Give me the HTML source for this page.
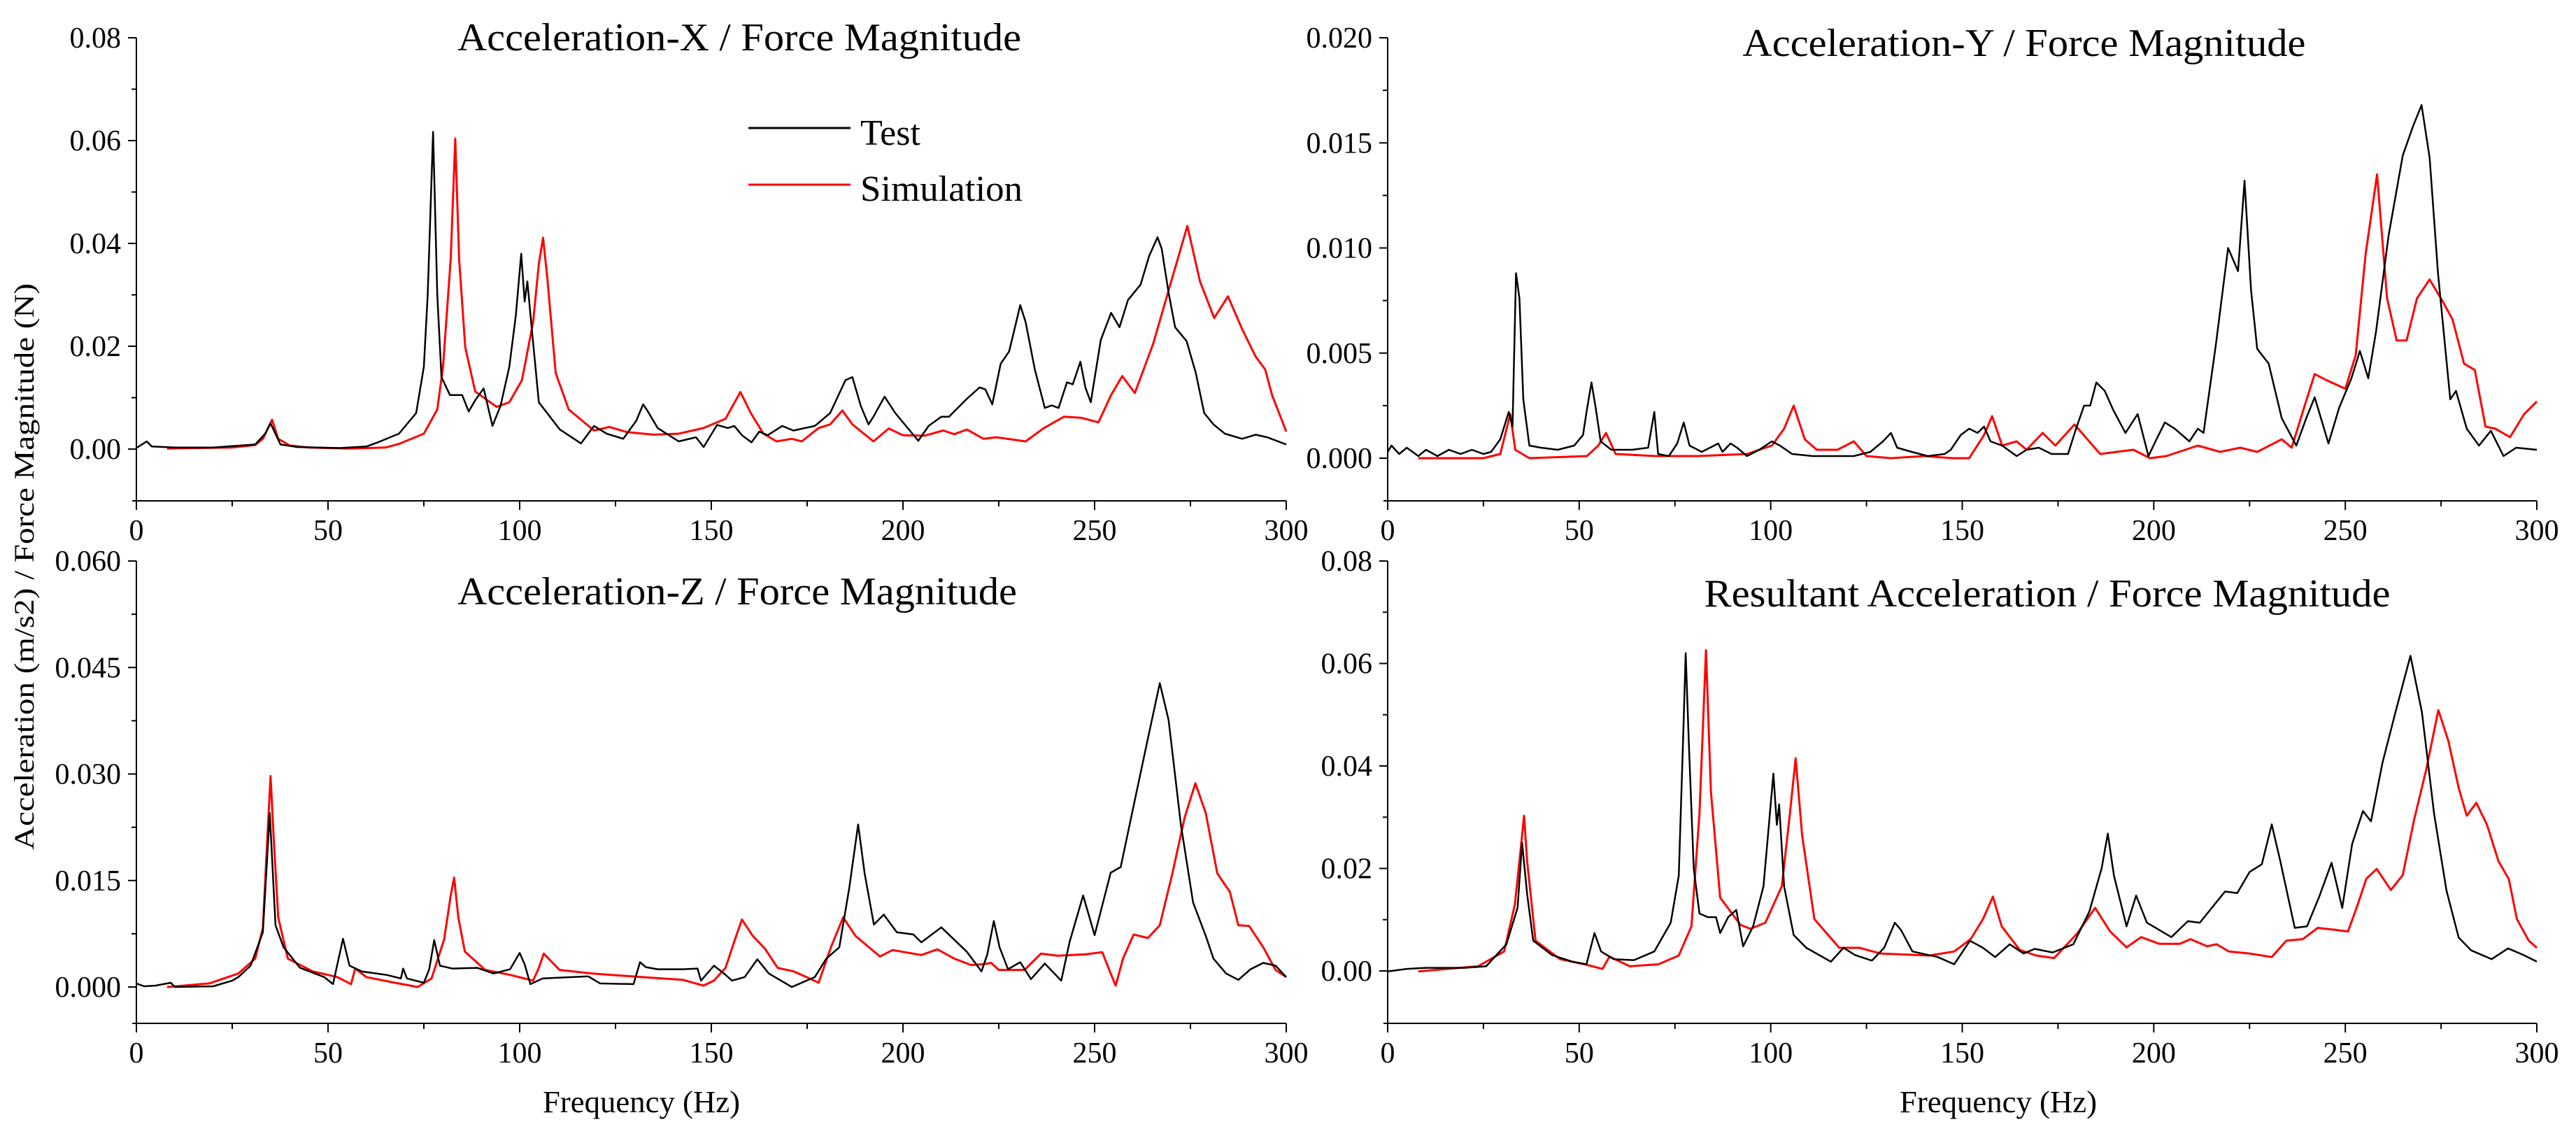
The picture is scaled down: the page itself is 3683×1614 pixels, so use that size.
<!DOCTYPE html>
<html>
<head>
<meta charset="utf-8">
<style>
html,body{margin:0;padding:0;background:#fff;}
svg{display:block;}
text{font-family:"Liberation Serif","Times New Roman",serif;fill:#000;}
</style>
</head>
<body>
<svg id="fig" width="3683" height="1614" viewBox="0 0 3683 1614" xmlns="http://www.w3.org/2000/svg">
<rect x="0" y="0" width="3683" height="1614" fill="#fff"/>
<text transform="translate(48,810) rotate(-90)" text-anchor="middle" font-size="40" textLength="810" lengthAdjust="spacingAndGlyphs">Acceleration (m/s2) / Force Magnitude (N)</text>
</svg>
<script>
// ---------- Data (frequency Hz, magnitude) ----------
const xTickLabels = ["0","50","100","150","200","250","300"];

const tlTestF = [0,2.7,4,10,20,31,33.6,35,37.6,42,53,60,63,68.5,73,75,76,77.4,78.5,79.6,81.8,85,86.7,88.4,90.6,92.9,95,97.3,99,100.4,101.3,102,103,105,110.5,116,119.4,122.7,127,130.4,132.2,133.3,136,141.5,146,148,151.5,154.3,156,158,160.5,162.5,164.7,168.5,171.4,177,181,185,186.8,189,191,192.3,195.2,198,202,204,206.7,210,212,216.7,220,221.5,223.3,225.5,227.7,230.6,232,234.4,237,238.8,240.6,242.8,244.3,246.3,247.6,249,251.6,254.3,256.5,258.7,262,264.2,266.4,267.5,269.3,271,274,276.4,278.6,281,284,288.5,292,295,300];
const tlTestV = [0.0002,0.0015,0.0005,0.0003,0.0003,0.0009,0.003,0.005,0.0009,0.0004,0.0002,0.0005,0.0013,0.003,0.007,0.016,0.030,0.0617,0.030,0.014,0.0105,0.0105,0.0073,0.0095,0.0118,0.0045,0.0084,0.016,0.026,0.038,0.0287,0.0326,0.0247,0.0091,0.0038,0.0011,0.0045,0.003,0.002,0.0055,0.0087,0.0075,0.0041,0.0015,0.0023,0.0004,0.0047,0.0041,0.0045,0.0027,0.0013,0.0034,0.0027,0.0045,0.0036,0.0045,0.007,0.0134,0.014,0.0084,0.0048,0.0063,0.0102,0.007,0.0034,0.0016,0.0045,0.0063,0.0063,0.0098,0.012,0.0116,0.0087,0.0166,0.019,0.028,0.0247,0.0155,0.008,0.0085,0.008,0.013,0.0126,0.017,0.012,0.0091,0.0212,0.0265,0.0237,0.029,0.032,0.0375,0.0412,0.039,0.0304,0.0237,0.021,0.0148,0.007,0.0048,0.003,0.002,0.0028,0.0023,0.0009];
const tlSimF = [8,25,31,33,35.4,37,40,45,55,65,68.5,75,78.5,80,82,83.2,84.2,85.8,88.4,94,97.3,100.6,103.5,105,106.1,107.2,109.4,112.8,119.4,123.4,128,135,141.5,148,153.7,157.6,160.3,163.6,167,171,173.6,178,181,184.2,186.8,192.3,196.3,200,205.6,210.5,213.4,216.7,221,224.4,232,236.6,242,246.5,251,254.3,257.2,260.5,265.3,269.7,274.2,277.5,281.2,284.8,288.5,292,294.5,296.3,300];
const tlSimV = [0.0001,0.0003,0.0008,0.002,0.0057,0.002,0.0007,0.0003,0.0001,0.0003,0.001,0.003,0.0077,0.016,0.037,0.0604,0.037,0.0198,0.0112,0.0082,0.0091,0.0134,0.0247,0.036,0.0411,0.0333,0.0148,0.0077,0.0036,0.0043,0.0033,0.0028,0.003,0.0041,0.0059,0.0111,0.007,0.003,0.0015,0.002,0.0015,0.0041,0.0048,0.0075,0.0048,0.0015,0.004,0.0027,0.0026,0.0036,0.0029,0.0038,0.002,0.0023,0.0015,0.004,0.0063,0.0061,0.0052,0.0105,0.0142,0.0109,0.0205,0.0319,0.0434,0.0326,0.0255,0.0297,0.0233,0.018,0.0155,0.0105,0.0034];

const trTestF = [0,1,3,5,8,10,13,16,19,22,25,27,29.4,31.6,32.6,33.5,34.4,35.4,37,40,44.4,48.7,51,52,53.2,54.3,55.6,58.4,63.8,68,69.6,70.6,73.4,75.6,77.3,78.8,82,86.3,87.4,89.5,91.2,93.8,97,100.3,102.4,105.6,111,115.3,121.7,126,129.3,131.4,133,136.8,141,145.4,147,149.6,151.8,154,155.7,157.4,160.4,164.2,166.8,170,173.3,177.6,179.7,181.8,183.4,185,187.2,189.4,192.6,195.8,198.6,200.7,202.9,205.5,209.3,211.5,213,216.2,219.4,222,223.7,225.4,227,230,233.4,237.2,239.8,242,245.6,248.4,251.6,253.8,256,258,261.3,265,267.7,269.9,272,274.2,277.4,278.9,281.7,284.9,288,291.3,294.6,300];
const trTestV = [0.0003,0.0006,0.0002,0.0005,0.0001,0.0004,0.0001,0.0004,0.0002,0.0004,0.0002,0.0003,0.0009,0.0022,0.0015,0.0088,0.0076,0.0028,0.0006,0.0005,0.0004,0.0006,0.0011,0.0023,0.0036,0.0024,0.0008,0.0004,0.0004,0.0005,0.0022,0.0002,0.0001,0.0007,0.0017,0.0006,0.0003,0.0007,0.0003,0.0007,0.0005,0.0001,0.0004,0.0008,0.0006,0.0002,0.0001,0.0001,0.0001,0.0003,0.0008,0.0012,0.0005,0.0003,0.0001,0.0002,0.0004,0.0011,0.0014,0.0012,0.0015,0.0008,0.0006,0.0001,0.0004,0.0005,0.0002,0.0002,0.0014,0.0025,0.0025,0.0036,0.0032,0.0023,0.0012,0.0021,0.0001,0.0009,0.0017,0.0014,0.0008,0.0014,0.0012,0.0054,0.01,0.0089,0.0132,0.008,0.0052,0.0045,0.0019,0.0006,0.0019,0.0029,0.0007,0.0024,0.0038,0.0051,0.0038,0.006,0.0106,0.0144,0.0158,0.0168,0.0143,0.0088,0.0028,0.0032,0.0014,0.0006,0.0013,0.0001,0.0005,0.0004];
const trSimF = [8,25,29.4,32,33.3,37,52,55,57,59.5,70,81,93.8,100.3,103.5,106,108.9,112,117.4,121.7,125,131.4,140,147.5,151.8,155.7,157.8,160.4,164.2,166.8,171,174.3,179.3,186,194.7,199,203.3,211.5,217.3,222.6,227,233.4,236,239.4,242,245.2,250,252.7,255.3,258.3,260.9,263.4,266,268.7,272,275.3,278,281,283.8,286.6,289.2,293,296.7,300];
const trSimV = [0,0,0.0002,0.0021,0.0004,0,0.0001,0.0006,0.0012,0.0002,0.0001,0.0001,0.0002,0.0006,0.0014,0.0025,0.0009,0.0004,0.0004,0.0008,0.0001,0,0.0001,0,0,0.0011,0.002,0.0006,0.0008,0.0004,0.0012,0.0006,0.0016,0.0002,0.0004,0,0.0001,0.0006,0.0003,0.0005,0.0003,0.0009,0.0005,0.0025,0.004,0.0037,0.0033,0.0049,0.0097,0.0135,0.0076,0.0056,0.0056,0.0076,0.0085,0.0075,0.0066,0.0045,0.0042,0.0015,0.0014,0.001,0.0021,0.0027];

const blTestF = [0,2,5,9,10,20,25,26.6,29.8,33,34.8,36.3,38.4,42.7,49,51.3,53.9,55.6,58.8,65.3,69,69.6,70.6,75,76.4,77.7,79.2,82.4,88.9,93.2,97.5,100,101.3,102.8,106,117.9,121,129.7,131.4,132.9,136,142.6,146.4,147.3,150.7,153.3,155.4,158.7,162,165,171,177,180,183.4,186,188.3,190,192.4,195,198.4,202.7,204.8,210,216.6,220.5,222,223.7,225.2,227.4,230.6,233.4,237,241.3,243.5,247,250,254.2,256.8,260.6,263.9,267,269.3,272.5,275.7,279,281,284.3,287.5,290.7,294,297.2,300];
const blTestV = [0.0005,0.0001,0.0002,0.0006,0,0.0001,0.0009,0.0014,0.003,0.0077,0.0245,0.0087,0.0056,0.0027,0.0014,0.0004,0.0068,0.003,0.0022,0.0017,0.0012,0.0026,0.0012,0.0006,0.0025,0.0066,0.003,0.0026,0.0027,0.0019,0.0025,0.0048,0.0032,0.0004,0.0012,0.0015,0.0005,0.0004,0.0035,0.0028,0.0025,0.0025,0.0026,0.0009,0.003,0.0019,0.0009,0.0014,0.0039,0.0019,0,0.0014,0.004,0.0056,0.014,0.0229,0.016,0.0088,0.0102,0.0077,0.0074,0.0063,0.0084,0.005,0.0022,0.0046,0.0093,0.0056,0.0025,0.0035,0.0011,0.0033,0.0009,0.0064,0.0129,0.0073,0.0161,0.0169,0.0266,0.035,0.0428,0.0376,0.0229,0.0119,0.0072,0.004,0.0019,0.001,0.0025,0.0034,0.003,0.0014];
const blSimF = [8,19,26.6,31,33,34.1,35,35.9,37,39.5,46,52.4,56,57.1,60,67.4,73.4,77,80.3,82,82.9,84,85.7,91,97.5,103.5,105,106.3,110.4,119,131.8,142.6,148,150.7,153.7,156.5,158,160.8,164,167.3,171.5,174.8,178,181.2,184.4,187.6,194,197.3,204.8,209,213.4,217.7,221,223,225,231.7,236,240.3,247.7,252,254.2,255.5,257.4,260.2,263.9,267,270.3,273.5,276.3,279,282,285.3,287.5,290.3,294,297.2,300];
const blSimV = [0,0.0005,0.0019,0.004,0.0083,0.0203,0.0297,0.0203,0.0098,0.004,0.0022,0.0014,0.0004,0.0026,0.0014,0.0006,0,0.0012,0.0067,0.0129,0.0154,0.0098,0.005,0.0024,0.0017,0.0009,0.0027,0.0047,0.0024,0.0019,0.0014,0.001,0.0002,0.0009,0.0027,0.0072,0.0095,0.0072,0.0054,0.0027,0.0022,0.0014,0.0006,0.0056,0.0098,0.0072,0.0043,0.0052,0.0045,0.0053,0.004,0.0031,0.0032,0.0034,0.0024,0.0024,0.0047,0.0044,0.0046,0.0049,0.0019,0.0002,0.004,0.0074,0.0069,0.0087,0.016,0.0239,0.0287,0.0245,0.016,0.0134,0.0087,0.0086,0.0056,0.0024,0.0014];

const brTestF = [0,5,10,20,25.7,31,33.9,35.1,36.4,38,42.9,48.2,51.9,54,55.7,59,64.3,69.6,73.9,76,77.1,77.8,78.6,79.9,81.4,83.6,85.7,86.8,88.9,91,92.8,95.4,98.1,100.7,101.6,102.2,103.5,106,109.3,115.7,119,122,126.4,129.6,132.4,134,137,143.6,147.9,152,155.4,158.6,162.4,166,168.9,173.6,179,183.2,186.4,188,189.6,192.9,195.4,198.2,204.6,208.9,212,218.6,221.8,225,228.2,230.8,233,236.8,240,243.2,246.4,249.2,251.8,254.6,256.7,259.7,263.1,267,270,273.2,276.4,279.6,282.9,288.2,292.5,296.8,300];
const brTestV = [-0.0001,0.0004,0.0006,0.0006,0.0009,0.0052,0.0123,0.025,0.015,0.0059,0.0031,0.0018,0.0013,0.0074,0.0038,0.0023,0.0021,0.0038,0.0094,0.0186,0.0448,0.062,0.0448,0.02,0.0112,0.0105,0.0105,0.0074,0.0105,0.0119,0.0048,0.0087,0.0165,0.0385,0.0285,0.0325,0.0165,0.007,0.0045,0.0018,0.0045,0.0031,0.002,0.0045,0.0094,0.008,0.0038,0.0027,0.0013,0.0059,0.0045,0.0027,0.0052,0.0034,0.0043,0.0036,0.0052,0.0116,0.0201,0.0268,0.0186,0.0087,0.0147,0.0094,0.0066,0.0097,0.0094,0.0155,0.0152,0.0193,0.0208,0.0286,0.0215,0.0084,0.0087,0.0145,0.0211,0.0123,0.0248,0.0312,0.0292,0.0406,0.0505,0.0615,0.0505,0.0306,0.0157,0.0065,0.004,0.0023,0.0044,0.003,0.0018];
const brSimF = [8,23.6,30.4,33.2,34.7,35.6,36.4,38.6,45,51.4,56.1,57.9,63.2,70.7,76,79.3,81.4,83.1,84.4,86.8,92.1,94.7,98.6,102.9,105,106.5,108.2,111.4,117.9,123.2,128.6,141.4,147.9,152.2,155.4,158,160.3,165,169.3,174,180,184.7,188.6,192.9,196.7,201.4,206.8,209.6,213.9,216.4,219.6,225,230.8,234.6,238.9,242.8,247.5,250.7,252.9,255.5,258.2,261.9,265,267.9,271.1,274.3,276.9,279.6,281.7,284.2,287,290,292.7,294.8,297.9,300];
const brSimV = [-0.0001,0.0009,0.0038,0.0129,0.0235,0.0303,0.0214,0.0059,0.0023,0.0013,0.0004,0.0028,0.0009,0.0013,0.003,0.0087,0.0307,0.0626,0.0349,0.0143,0.009,0.0082,0.0094,0.0165,0.0307,0.0415,0.0264,0.0101,0.0045,0.0045,0.0034,0.003,0.0038,0.0062,0.0101,0.0145,0.0087,0.0041,0.003,0.0025,0.0073,0.0123,0.0077,0.0046,0.0066,0.0053,0.0053,0.0062,0.0048,0.0052,0.0038,0.0034,0.0027,0.0059,0.0062,0.0084,0.008,0.0077,0.0122,0.018,0.0199,0.0158,0.0187,0.0293,0.0392,0.0509,0.0449,0.0357,0.0303,0.0328,0.0285,0.0214,0.0179,0.0101,0.0059,0.0045];

// ---------- Panels ----------
const svg = document.getElementById('fig');
const NS = 'http://www.w3.org/2000/svg';
function mk(tag, attrs, parent){
  const e = document.createElementNS(NS, tag);
  for (const k in attrs) e.setAttribute(k, attrs[k]);
  (parent||svg).appendChild(e);
  return e;
}

const panels = [
  {key:'accel-x', title:'Acceleration-X / Force Magnitude', tx:1057, ty:72, tw:806,
   x0:195, x1:1839, yTop:54, yZero:642, vTop:0.08, yBot:716, step:0.02, minor:0.01, dec:2,
   yLabels:["0.00","0.02","0.04","0.06","0.08"], tf:tlTestF, tv:tlTestV, sf:tlSimF, sv:tlSimV, xlabel:false},
  {key:'accel-y', title:'Acceleration-Y / Force Magnitude', tx:2894, ty:80, tw:805,
   x0:1984, x1:3627, yTop:54, yZero:655, vTop:0.020, yBot:716, step:0.005, minor:0.0025, dec:3,
   yLabels:["0.000","0.005","0.010","0.015","0.020"], tf:trTestF, tv:trTestV, sf:trSimF, sv:trSimV, xlabel:false},
  {key:'accel-z', title:'Acceleration-Z / Force Magnitude', tx:1054, ty:864, tw:800,
   x0:195, x1:1839, yTop:802, yZero:1411, vTop:0.060, yBot:1463, step:0.015, minor:0.0075, dec:3,
   yLabels:["0.000","0.015","0.030","0.045","0.060"], tf:blTestF, tv:blTestV, sf:blSimF, sv:blSimV, xlabel:true, lx:917},
  {key:'resultant', title:'Resultant Acceleration / Force Magnitude', tx:2927, ty:867, tw:981,
   x0:1984, x1:3627, yTop:802, yZero:1388, vTop:0.08, yBot:1463, step:0.02, minor:0.01, dec:2,
   yLabels:["0.00","0.02","0.04","0.06","0.08"], tf:brTestF, tv:brTestV, sf:brSimF, sv:brSimV, xlabel:true, lx:2857}
];

panels.forEach(p => {
  const g = mk('g', {});
  
  
  const xs = f => p.x0 + (f/300)*(p.x1-p.x0);
  const ys = v => p.yZero - (v/p.vTop)*(p.yZero-p.yTop);

  // axes
  const ya = mk('line', {x1:p.x0, y1:p.yTop, x2:p.x0, y2:p.yBot, stroke:'#000','stroke-width':2}, g);
  
  
  const xa = mk('line', {x1:p.x0-6, y1:p.yBot, x2:p.x1, y2:p.yBot, stroke:'#000','stroke-width':2}, g);
  
  

  // y ticks
  const nMinor = Math.round(p.vTop/p.minor);
  for (let i=0;i<=nMinor;i++){
    const v = i*p.minor, y = ys(v);
    const major = (i % 2 === 0);
    mk('line', {x1:p.x0-(major?12:7), y1:y, x2:p.x0, y2:y, stroke:'#000','stroke-width':2}, g);
  }
  p.yLabels.forEach((lab,i) => {
    const t = mk('text', {x:p.x0-22, y:ys(i*p.step)+14, 'text-anchor':'end','font-size':42}, g);
    t.textContent = lab;
    
    
  });
  // x ticks
  for (let f=0; f<=300; f+=25){
    const major = f%50===0;
    mk('line', {x1:xs(f), y1:p.yBot, x2:xs(f), y2:p.yBot+(major?13:8), stroke:'#000','stroke-width':2}, g);
  }
  xTickLabels.forEach((lab,i) => {
    const t = mk('text', {x:xs(i*50), y:p.yBot+56, 'text-anchor':'middle','font-size':42}, g);
    t.textContent = lab;
    
    
  });
  // title
  const tt = mk('text', {x:p.tx, y:p.ty, 'text-anchor':'middle','font-size':56, textLength:p.tw, lengthAdjust:'spacingAndGlyphs'}, g);
  tt.textContent = p.title;
  
  
  if (p.xlabel){
    const xl = mk('text', {x:p.lx, y:1590, 'text-anchor':'middle','font-size':44, textLength:282, lengthAdjust:'spacingAndGlyphs'}, g);
    xl.textContent = 'Frequency (Hz)';
    
    
  }
  // series
  const path = (F,V) => F.map((f,i)=>(i?'L':'M')+xs(f).toFixed(1)+' '+ys(V[i]).toFixed(1)).join(' ');
  const sp = mk('path', {d:path(p.sf,p.sv), fill:'none', stroke:'#ff0000','stroke-width':3,'stroke-linejoin':'round'}, g);
  
  
  const tp = mk('path', {d:path(p.tf,p.tv), fill:'none', stroke:'#000','stroke-width':2.5,'stroke-linejoin':'round'}, g);
  
  
});

// legend (top-left panel)
const lg = mk('g', {});


const l1 = mk('line', {x1:1070, y1:183, x2:1216, y2:183, stroke:'#000','stroke-width':3}, lg);


const t1 = mk('text', {x:1230, y:207, 'font-size':52}, lg);
t1.textContent = 'Test';


const l2 = mk('line', {x1:1070, y1:264, x2:1216, y2:264, stroke:'#ff0000','stroke-width':3}, lg);


const t2 = mk('text', {x:1230, y:287, 'font-size':52, textLength:232, lengthAdjust:'spacingAndGlyphs'}, lg);
t2.textContent = 'Simulation';


</script>
</body>
</html>
